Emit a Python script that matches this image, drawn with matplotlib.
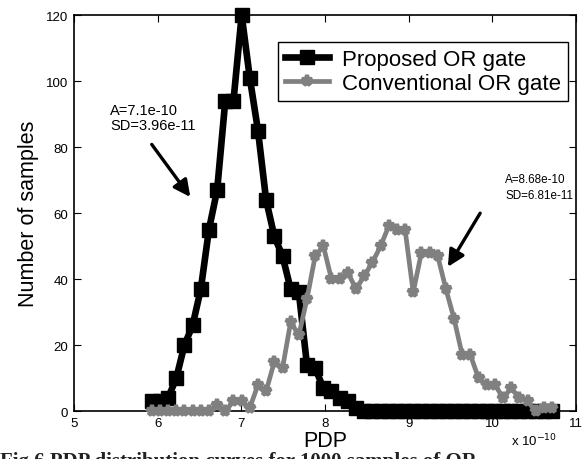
import matplotlib
matplotlib.use('Agg')
import matplotlib.pyplot as plt

plt.rcParams['font.family'] = ['Liberation Sans', 'DejaVu Sans']

# PDP bin centres (units of 1e-10)
pdp = [5.930, 6.028, 6.125, 6.223, 6.320, 6.418, 6.516, 6.613, 6.711, 6.808,
       6.906, 7.004, 7.101, 7.199, 7.296, 7.394, 7.492, 7.589, 7.687, 7.784,
       7.882, 7.980, 8.077, 8.175, 8.272, 8.370, 8.468, 8.565, 8.663, 8.760,
       8.858, 8.956, 9.053, 9.151, 9.248, 9.346, 9.444, 9.541, 9.639, 9.736,
       9.834, 9.932, 10.029, 10.127, 10.224, 10.322, 10.420, 10.517, 10.615, 10.712]

proposed = [3, 3, 4, 10, 20, 26, 37, 55, 67, 94,
            94, 120, 101, 85, 64, 53, 47, 37, 36, 14,
            13, 7, 6, 4, 3, 1, 0, 0, 0, 0,
            0, 0, 0, 0, 0, 0, 0, 0, 0, 0,
            0, 0, 0, 0, 0, 0, 0, 0, 0, 0]

conventional = [0, 0, 0, 0, 0, 0, 0, 0, 2, 0,
                3, 3, 1, 8, 6, 15, 13, 27, 23, 34,
                47, 50, 40, 40, 42, 37, 41, 45, 50, 56,
                55, 55, 36, 48, 48, 47, 37, 28, 17, 17,
                10, 8, 8, 4, 7, 4, 3, 0, 1, 1]

labels = ['Proposed OR gate', 'Conventional OR gate']
xticks = [5, 6, 7, 8, 9, 10, 11]
yticks = [0, 20, 40, 60, 80, 100, 120]

fig = plt.figure(figsize=(5.82, 4.60), dpi=100)
ax = fig.add_axes([0.127, 0.104, 0.863, 0.861])

ax.plot(pdp, proposed, color='black', lw=4.8, marker='s', ms=10.5,
        mfc='black', mec='black', clip_on=False, label=labels[0], zorder=3)
ax.plot(pdp, conventional, color='#808080', lw=3.4, marker='*', ms=8, mew=3,
        mfc='#808080', mec='#808080', clip_on=False, label=labels[1], zorder=4)

ax.set_xlim(5, 11)
ax.set_ylim(0, 120)
ax.set_xticks(xticks)
ax.set_yticks(yticks)
ax.tick_params(direction='in', length=5, width=0.8, top=True, right=True,
               labelsize=9.5, pad=4)
for s in ax.spines.values():
    s.set_linewidth(1.2)

ax.set_xlabel('PDP', fontsize=15.5, labelpad=1)
ax.set_ylabel('Number of samples', fontsize=15.5, labelpad=5)
fig.text(0.878, 0.042, r'x 10$^{-10}$', fontsize=9.5, ha='left', va='center')

leg = ax.legend(loc='upper right', bbox_to_anchor=(0.984, 0.932), fontsize=16,
                numpoints=1, handlelength=2.0, fancybox=False, framealpha=1,
                edgecolor='black', borderpad=0.3, labelspacing=0.15,
                handletextpad=0.6, borderaxespad=0)
leg.get_frame().set_linewidth(1.0)

# annotations
ax.text(5.43, 89, 'A=7.1e-10\nSD=3.96e-11', fontsize=10.5, ha='left', va='center',
        linespacing=1.15)
ax.annotate('', xy=(6.41, 64.2), xytext=(5.91, 81.5),
            arrowprops=dict(arrowstyle='-|>,head_length=1.0,head_width=0.5',
                            color='black', lw=2.4))
ax.text(10.15, 68, 'A=8.68e-10\nSD=6.81e-11', fontsize=8.4, ha='left', va='center',
        linespacing=1.4)
ax.annotate('', xy=(9.45, 43), xytext=(9.87, 60.7),
            arrowprops=dict(arrowstyle='-|>,head_length=1.0,head_width=0.5',
                            color='black', lw=2.4))

# caption from the page, cut off by the crop
fig.text(0.0, 1 - 452 / 460, 'Fig.6 PDP distribution curves for 1000 samples of OR',
         fontsize=15, fontweight='bold', family='Liberation Serif', ha='left',
         va='top', color='#222222')

fig.savefig('out.png', dpi=100)
